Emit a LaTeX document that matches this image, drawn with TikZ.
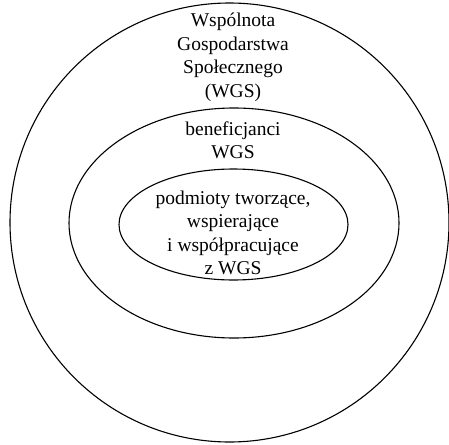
\documentclass[tikz,border=0pt]{standalone}
\usepackage{fontspec}
\setmainfont{Liberation Serif}
\usetikzlibrary{shapes.geometric}

\tikzset{krag/.style = {ellipse, draw, line width=1.1pt, inner sep=0pt,
                        minimum width=#1},
         krag/.default=100pt,
         napis/.style = {align=center, inner sep=0pt,
                         font=\fontsize{19.5}{23.5}\selectfont}
        }

\begin{document}
\begin{tikzpicture}[x=1pt, y=-1pt]
  \useasboundingbox (0,0) rectangle (449,444);
  % trzy obszary
  \node[krag=439pt, minimum height=439pt] (wgs) at (229.5,222.5) {};
  \node[krag=330pt, minimum height=230pt] (benef) at (234,223) {};
  \node[krag=229pt, minimum height=111pt] (podm) at (233.5,224.5) {};
  % opisy
  \node[napis] (twgs) at (233,57.5) {Wspólnota\\Gospodarstwa\\Społecznego\\(WGS)};
  \node[napis] (tbenef) at (233,140.5) {beneficjanci\\WGS};
  \node[napis] (tpodm) at (233,233) {podmioty tworzące,\\wspierające\\i współpracujące\\z WGS};
\end{tikzpicture}
\end{document}
